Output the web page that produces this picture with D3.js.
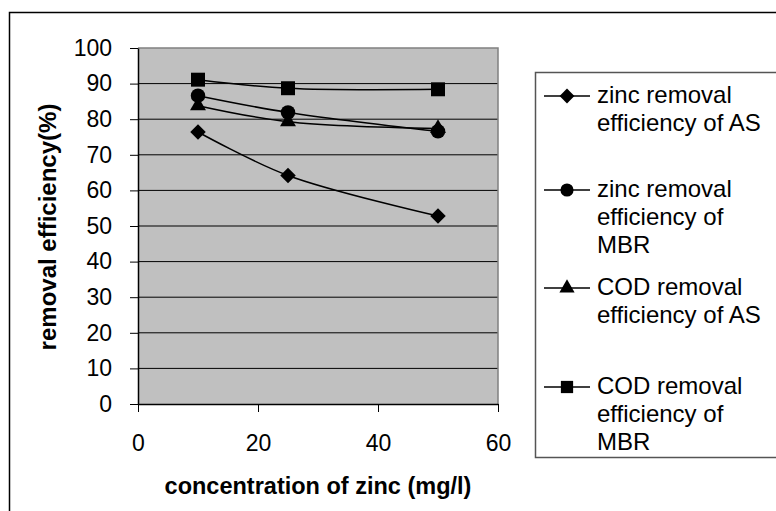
<!DOCTYPE html>
<html>
<head>
<meta charset="utf-8">
<script src="https://cdn.jsdelivr.net/npm/d3@7"></script>
<style>
  html, body { margin: 0; padding: 0; background: #fff; }
  svg { display: block; }
  text { font-family: "Liberation Sans", Arial, sans-serif; fill: #000; }
</style>
</head>
<body>
<svg id="chart" width="776" height="511"></svg>
<script>
// ---- data ----
const concentrations = [10, 25, 50];
const seriesNames = [
  ["zinc removal", "efficiency of AS"],
  ["zinc removal", "efficiency of", "MBR"],
  ["COD removal", "efficiency of AS"],
  ["COD removal", "efficiency of", "MBR"]
];
const zincAS  = [76.4, 64.2, 52.8];
const zincMBR = [86.6, 81.9, 76.6];
const codAS   = [83.8, 79.3, 77.4];
const codMBR  = [91.1, 88.7, 88.4];
const markerTypes = ["diamond", "circle", "triangle", "square"];
const xTickValues = [0, 20, 40, 60];
const yTickValues = [0, 10, 20, 30, 40, 50, 60, 70, 80, 90, 100];
const xTitle = "concentration of zinc (mg/l)";
const yTitle = "removal efficiency(%)";

// ---- layout ----
const svg = d3.select("#chart");
const plot = { left: 138, right: 498, top: 48, bottom: 404 };
const allSeries = [zincAS, zincMBR, codAS, codMBR];

// outer frame (extends beyond the visible area on right/bottom)
svg.append("rect")
  .attr("x", 9.5).attr("y", 12.5)
  .attr("width", 900).attr("height", 700)
  .attr("fill", "#fff").attr("stroke", "#000").attr("stroke-width", 1.5);

const x = d3.scaleLinear().domain([0, 60]).range([plot.left, plot.right]);
const y = d3.scaleLinear().domain([0, 100]).range([plot.bottom, plot.top]);

// plot background
svg.append("rect")
  .attr("x", plot.left).attr("y", plot.top)
  .attr("width", plot.right - plot.left).attr("height", plot.bottom - plot.top)
  .attr("fill", "#c0c0c0");

// gridlines
svg.append("g").selectAll("line")
  .data(yTickValues.filter(v => v > 0 && v < 100))
  .join("line")
  .attr("x1", plot.left).attr("x2", plot.right)
  .attr("y1", d => y(d)).attr("y2", d => y(d))
  .attr("stroke", "#000").attr("stroke-width", 1);

// plot border top/right in gray
svg.append("path")
  .attr("d", `M${plot.left},${plot.top}H${plot.right}V${plot.bottom}`)
  .attr("fill", "none").attr("stroke", "#808080").attr("stroke-width", 1.5);

// axes
const yAxis = d3.axisLeft(y).tickValues(yTickValues).tickSizeInner(8).tickSizeOuter(0).tickPadding(18);
const xAxis = d3.axisBottom(x).tickValues(xTickValues).tickSizeInner(8).tickSizeOuter(0).tickPadding(23);

const gy = svg.append("g").attr("transform", `translate(${plot.left},0)`).call(yAxis);
const gx = svg.append("g").attr("transform", `translate(0,${plot.bottom})`).call(xAxis);
[gx, gy].forEach(g => {
  g.select(".domain").attr("stroke", "#000").attr("stroke-width", 1.5);
  g.selectAll(".tick line").attr("stroke", "#000").attr("stroke-width", 1);
  g.selectAll(".tick text")
    .attr("font-family", '"Liberation Sans", Arial, sans-serif')
    .attr("font-size", 23).attr("fill", "#000");
});

// axis titles
svg.append("text")
  .attr("x", (plot.left + plot.right) / 2).attr("y", 494)
  .attr("text-anchor", "middle")
  .attr("font-size", 23.5).attr("font-weight", "bold")
  .text(xTitle);

svg.append("text")
  .attr("transform", `translate(56,${(plot.top + plot.bottom) / 2 + 1}) rotate(-90)`)
  .attr("text-anchor", "middle")
  .attr("font-size", 24).attr("font-weight", "bold")
  .text(yTitle);

// marker generator
const diamondType = {
  draw(ctx, size) {
    const r = Math.sqrt(size) / 2 * Math.SQRT2;
    ctx.moveTo(0, -r); ctx.lineTo(r, 0); ctx.lineTo(0, r); ctx.lineTo(-r, 0); ctx.closePath();
  }
};
const symbolFor = {
  diamond: d3.symbol().type(diamondType).size(120),
  circle: d3.symbol().type(d3.symbolCircle).size(165),
  triangle: d3.symbol().type(d3.symbolTriangle).size(110),
  square: d3.symbol().type(d3.symbolSquare).size(195)
};
const legendSymbolFor = {
  diamond: d3.symbol().type(diamondType).size(110),
  circle: d3.symbol().type(d3.symbolCircle).size(135),
  triangle: d3.symbol().type(d3.symbolTriangle).size(100),
  square: d3.symbol().type(d3.symbolSquare).size(150)
};

// lines
const line = d3.line()
  .x((d, i) => x(concentrations[i]))
  .y(d => y(d))
  .curve(d3.curveCatmullRom.alpha(0.5));

allSeries.forEach((vals, si) => {
  svg.append("path")
    .attr("d", line(vals))
    .attr("fill", "none").attr("stroke", "#000").attr("stroke-width", 1.5);
});
allSeries.forEach((vals, si) => {
  svg.append("g").selectAll("path")
    .data(vals)
    .join("path")
    .attr("transform", (d, i) => `translate(${x(concentrations[i])},${y(d)})`)
    .attr("d", symbolFor[markerTypes[si]]())
    .attr("fill", "#000");
});

// legend
const legend = { left: 535.5, top: 72.5, bottom: 457.5 };
svg.append("rect")
  .attr("x", legend.left).attr("y", legend.top)
  .attr("width", 400).attr("height", legend.bottom - legend.top)
  .attr("fill", "#fff").attr("stroke", "#555").attr("stroke-width", 1.5);

const entryY = [96, 190, 288, 387];
seriesNames.forEach((lines, i) => {
  const cy = entryY[i];
  const g = svg.append("g");
  g.append("line")
    .attr("x1", 544).attr("x2", 590).attr("y1", cy).attr("y2", cy)
    .attr("stroke", "#000").attr("stroke-width", 1.5);
  g.append("path")
    .attr("transform", `translate(567,${cy})`)
    .attr("d", legendSymbolFor[markerTypes[i]]())
    .attr("fill", "#000");
  const t = g.append("text")
    .attr("x", 597).attr("y", cy + 6.5)
    .attr("font-size", 24);
  lines.forEach((ln, j) => {
    t.append("tspan").attr("x", 597).attr("dy", j === 0 ? 0 : 28).text(ln);
  });
});
</script>
</body>
</html>
